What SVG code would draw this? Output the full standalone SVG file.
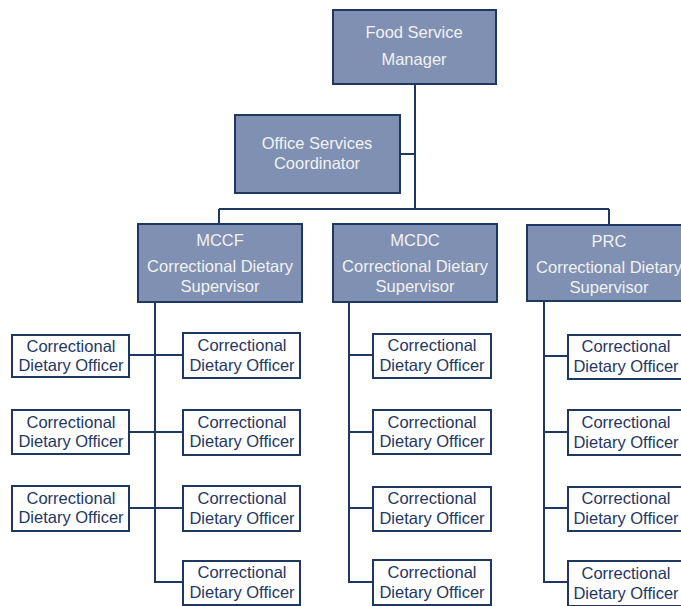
<svg xmlns="http://www.w3.org/2000/svg" width="681" height="606" viewBox="0 0 681 606">
<style>
.dk{fill:#7F90B2;stroke:#1F3763;stroke-width:2}
.lt{fill:#FFFFFF;stroke:#1F3763;stroke-width:2}
.tw{font-family:"Liberation Sans",Arial,sans-serif;font-size:16.5px;fill:#F2F2F2;text-anchor:middle}
.tn{font-family:"Liberation Sans",Arial,sans-serif;font-size:16.5px;fill:#1F3763;text-anchor:middle}
.ln{fill:none;stroke:#1F3763;stroke-width:2}
</style>
<rect width="681" height="606" fill="#FFFFFF"/>
<g id="connectors">
<path class="ln" d="M415,84 V209 M401,154 H415 M219,209 H609 M219,209 V224 M609,209 V225"/>
<path class="ln" d="M155,302 V582 H183 M130,355 H183 M130,432 H183 M130,508 H183"/>
<path class="ln" d="M349,302 V582 H373 M349,355 H373 M349,432 H373 M349,508 H373"/>
<path class="ln" d="M544,301 V582 H568 M544,356 H568 M544,432 H568 M544,508 H568"/>
</g>
<g id="n-fsm"><rect class="dk" x="333" y="10" width="163" height="74"/>
<text class="tw" x="414" y="38">Food Service</text><text class="tw" x="414" y="65">Manager</text></g>
<g id="n-osc"><rect class="dk" x="235" y="115" width="165" height="78"/>
<text class="tw" x="317" y="149">Office Services</text><text class="tw" x="317" y="169">Coordinator</text></g>
<g id="n-mccf"><rect class="dk" x="138" y="224" width="164" height="78"/>
<text class="tw" x="220" y="246">MCCF</text><text class="tw" x="220" y="272">Correctional Dietary</text><text class="tw" x="220" y="292">Supervisor</text></g>
<g id="n-mcdc"><rect class="dk" x="333" y="224" width="164" height="78"/>
<text class="tw" x="415" y="246">MCDC</text><text class="tw" x="415" y="272">Correctional Dietary</text><text class="tw" x="415" y="292">Supervisor</text></g>
<g id="n-prc"><rect class="dk" x="527" y="225" width="164" height="76"/>
<text class="tw" x="609" y="247">PRC</text><text class="tw" x="609" y="273">Correctional Dietary</text><text class="tw" x="609" y="293">Supervisor</text></g>

<g id="o-l1"><rect class="lt" x="12" y="335" width="117" height="42"/><text class="tn" x="71" y="352">Correctional</text><text class="tn" x="71" y="371">Dietary Officer</text></g>
<g id="o-l2"><rect class="lt" x="12" y="410" width="117" height="44"/><text class="tn" x="71" y="428">Correctional</text><text class="tn" x="71" y="447">Dietary Officer</text></g>
<g id="o-l3"><rect class="lt" x="12" y="486" width="117" height="45"/><text class="tn" x="71" y="504">Correctional</text><text class="tn" x="71" y="523">Dietary Officer</text></g>

<g id="o-m1"><rect class="lt" x="183" y="333" width="117" height="45"/><text class="tn" x="242" y="351">Correctional</text><text class="tn" x="242" y="371">Dietary Officer</text></g>
<g id="o-m2"><rect class="lt" x="183" y="410" width="117" height="45"/><text class="tn" x="242" y="428">Correctional</text><text class="tn" x="242" y="447">Dietary Officer</text></g>
<g id="o-m3"><rect class="lt" x="183" y="486" width="117" height="45"/><text class="tn" x="242" y="504">Correctional</text><text class="tn" x="242" y="524">Dietary Officer</text></g>
<g id="o-m4"><rect class="lt" x="183" y="561" width="117" height="44"/><text class="tn" x="242" y="578">Correctional</text><text class="tn" x="242" y="598">Dietary Officer</text></g>

<g id="o-c1"><rect class="lt" x="373" y="334" width="118" height="44"/><text class="tn" x="432" y="351">Correctional</text><text class="tn" x="432" y="371">Dietary Officer</text></g>
<g id="o-c2"><rect class="lt" x="373" y="410" width="118" height="44"/><text class="tn" x="432" y="428">Correctional</text><text class="tn" x="432" y="447">Dietary Officer</text></g>
<g id="o-c3"><rect class="lt" x="373" y="487" width="118" height="44"/><text class="tn" x="432" y="504">Correctional</text><text class="tn" x="432" y="524">Dietary Officer</text></g>
<g id="o-c4"><rect class="lt" x="373" y="560" width="118" height="45"/><text class="tn" x="432" y="578">Correctional</text><text class="tn" x="432" y="598">Dietary Officer</text></g>

<g id="o-r1"><rect class="lt" x="568" y="335" width="118" height="44"/><text class="tn" x="626" y="352">Correctional</text><text class="tn" x="626" y="372">Dietary Officer</text></g>
<g id="o-r2"><rect class="lt" x="568" y="410" width="118" height="45"/><text class="tn" x="626" y="428">Correctional</text><text class="tn" x="626" y="448">Dietary Officer</text></g>
<g id="o-r3"><rect class="lt" x="568" y="487" width="118" height="44"/><text class="tn" x="626" y="504">Correctional</text><text class="tn" x="626" y="524">Dietary Officer</text></g>
<g id="o-r4"><rect class="lt" x="568" y="561" width="118" height="45"/><text class="tn" x="626" y="579">Correctional</text><text class="tn" x="626" y="599">Dietary Officer</text></g>
</svg>
